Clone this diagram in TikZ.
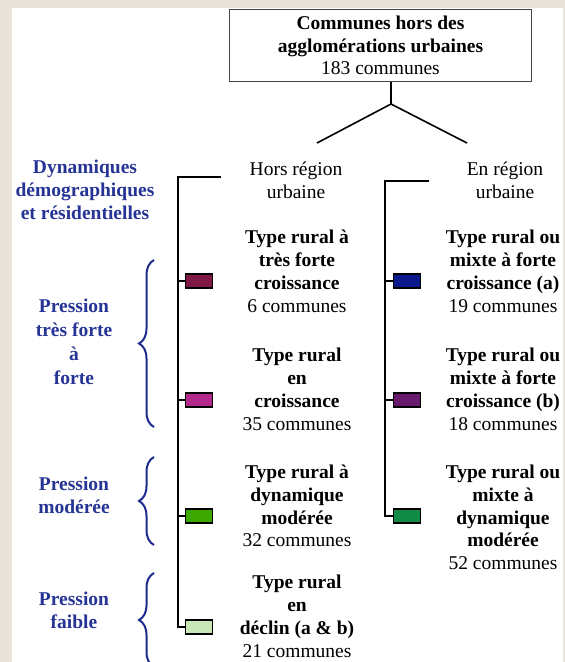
\documentclass[tikz,border=0pt]{standalone}
\usepackage{fontspec}
\setmainfont{Liberation Serif}
\usetikzlibrary{decorations.pathreplacing}
\definecolor{bgbeige}{RGB}{232,228,218}
\definecolor{boxgray}{RGB}{70,70,70}
\definecolor{lblue}{RGB}{38,52,150}
\definecolor{bblue}{RGB}{30,42,140}
\definecolor{cA}{RGB}{128,24,70}
\definecolor{cB}{RGB}{180,40,140}
\definecolor{cC}{RGB}{60,168,0}
\definecolor{cD}{RGB}{200,230,184}
\definecolor{cE}{RGB}{10,26,140}
\definecolor{cF}{RGB}{106,26,110}
\definecolor{cG}{RGB}{16,138,68}
\begin{document}
\begin{tikzpicture}[x=1pt,y=-1pt,
  txt/.style={align=center,inner sep=0pt,font=\fontsize{19.5}{22.8}\selectfont},
  lbl/.style={txt,text=lblue,font=\bfseries\fontsize{19.5}{22.8}\selectfont},
  conn/.style={draw=black,line width=1.6pt},
  cbox/.style={draw=black,line width=1.5pt,minimum width=27pt,minimum height=14pt,inner sep=0pt},
  bracefig/.style={draw=bblue,line width=2pt,decorate,decoration={brace,amplitude=15pt}}]
\useasboundingbox (0,0) rectangle (565,662);
\fill[bgbeige] (0,0) rectangle (565,662);
\fill[white] (12,8) rectangle (563,662);

% root box
\node[draw=boxgray,line width=1.2pt,minimum width=302pt,minimum height=72pt,txt] (root) at (380.5,45.5)
  {\textbf{Communes hors des}\\\textbf{agglomérations urbaines}\\183 communes};
\coordinate (j) at (391,104);
\coordinate (jl) at (317,143);
\coordinate (jr) at (467,143);
\draw[conn] (root.south -| j) -- (j);
\draw[conn] (jl) -- (j) -- (jr);

% headers
\node[txt] (hors) at (296,180) {Hors région\\urbaine};
\node[txt] (en) at (505,180) {En région\\urbaine};
\node[lbl] (dyn) at (85,190) {Dynamiques\\démographiques\\et résidentielles};

% left column boxes
\node[cbox,fill=cA] (b1) at (199,281) {};
\node[cbox,fill=cB] (b2) at (199,400) {};
\node[cbox,fill=cC] (b3) at (199,516) {};
\node[cbox,fill=cD] (b4) at (199,627) {};
% right column boxes
\node[cbox,fill=cE] (r1) at (407,281) {};
\node[cbox,fill=cF] (r2) at (407,400) {};
\node[cbox,fill=cG] (r3) at (407,516) {};

% left bracket
\coordinate (lt) at (221,177);
\coordinate (lc) at (178,177);
\draw[conn] (lt) -- (lc) |- (b4.west);
\foreach \n in {b1,b2,b3} \draw[conn] (lc |- \n.west) -- (\n.west);
% right bracket
\coordinate (rt) at (429,181);
\coordinate (rc) at (385,181);
\draw[conn] (rt) -- (rc) |- (r3.west);
\foreach \n in {r1,r2} \draw[conn] (rc |- \n.west) -- (\n.west);

% left texts
\node[txt] (t1) at (297,271.5) {\textbf{Type rural à}\\\textbf{très forte}\\\textbf{croissance}\\6 communes};
\node[txt] (t2) at (297,389.5) {\textbf{Type rural}\\\textbf{en}\\\textbf{croissance}\\35 communes};
\node[txt] (t3) at (297,506) {\textbf{Type rural à}\\\textbf{dynamique}\\\textbf{modérée}\\32 communes};
\node[txt] (t4) at (297,616.5) {\textbf{Type rural}\\\textbf{en}\\\textbf{déclin (a \& b)}\\21 communes};
% right texts
\node[txt] (u1) at (503,271.5) {\textbf{Type rural ou}\\\textbf{mixte à forte}\\\textbf{croissance (a)}\\19 communes};
\node[txt] (u2) at (503,389.5) {\textbf{Type rural ou}\\\textbf{mixte à forte}\\\textbf{croissance (b)}\\18 communes};
\node[txt] (u3) at (503,517.5) {\textbf{Type rural ou}\\\textbf{mixte à}\\\textbf{dynamique}\\\textbf{modérée}\\52 communes};

% pressure labels and braces
\node[lbl,font=\bfseries\fontsize{19.5}{24}\selectfont] (p1) at (74,342) {Pression\\très forte\\à\\forte};
\node[lbl] (p2) at (74,495) {Pression\\modérée};
\node[lbl] (p3) at (74,610) {Pression\\faible};
\coordinate (k1a) at (154,427); \coordinate (k1b) at (154,260);
\coordinate (k2a) at (154,545); \coordinate (k2b) at (154,457);
\coordinate (k3a) at (154,667); \coordinate (k3b) at (154,573);
\begin{scope}
\clip (0,0) rectangle (565,662);
\draw[bracefig] (k1a) -- (k1b);
\draw[bracefig] (k2a) -- (k2b);
\draw[bracefig] (k3a) -- (k3b);
\end{scope}

% right margin strip over clipped text
\fill[bgbeige] (563,0) rectangle (565,662);
\fill[bgbeige] (0,0) rectangle (565,8);
\end{tikzpicture}
\end{document}
